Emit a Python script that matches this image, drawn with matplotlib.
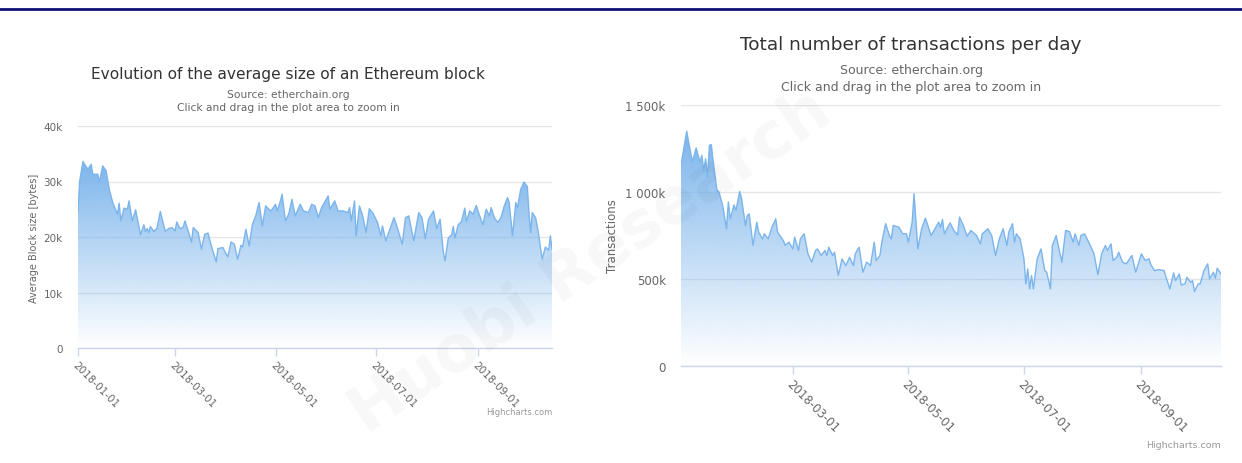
import numpy as np
import pandas as pd
import matplotlib
matplotlib.use("Agg")
import matplotlib.pyplot as plt
import matplotlib.dates as mdates
import matplotlib.colors as mcolors
from matplotlib.lines import Line2D

# ---------------- data ----------------
block_dates = [
    "2018-01-01", "2018-01-02", "2018-01-04", "2018-01-07", "2018-01-09", "2018-01-10", "2018-01-13",
    "2018-01-14", "2018-01-16", "2018-01-18", "2018-01-20", "2018-01-22", "2018-01-25", "2018-01-26",
    "2018-01-27", "2018-01-29", "2018-01-31",
    "2018-02-01", "2018-02-03", "2018-02-05", "2018-02-08", "2018-02-10", "2018-02-11", "2018-02-12",
    "2018-02-13", "2018-02-14", "2018-02-16", "2018-02-18", "2018-02-20", "2018-02-23", "2018-02-25",
    "2018-02-27",
    "2018-03-01", "2018-03-02", "2018-03-04", "2018-03-06", "2018-03-07", "2018-03-09", "2018-03-11",
    "2018-03-12", "2018-03-15", "2018-03-17", "2018-03-19", "2018-03-21", "2018-03-23", "2018-03-26",
    "2018-03-27", "2018-03-30",
    "2018-04-02", "2018-04-04", "2018-04-06", "2018-04-08", "2018-04-10", "2018-04-11", "2018-04-13",
    "2018-04-15", "2018-04-17", "2018-04-19", "2018-04-21", "2018-04-23", "2018-04-25", "2018-04-28",
    "2018-04-29",
    "2018-05-01", "2018-05-02", "2018-05-04", "2018-05-05", "2018-05-07", "2018-05-09", "2018-05-11",
    "2018-05-13", "2018-05-16", "2018-05-18", "2018-05-21", "2018-05-23", "2018-05-25", "2018-05-27",
    "2018-05-29",
    "2018-06-02", "2018-06-03", "2018-06-06", "2018-06-08", "2018-06-11", "2018-06-14", "2018-06-15",
    "2018-06-16", "2018-06-18", "2018-06-19", "2018-06-21", "2018-06-23", "2018-06-25", "2018-06-27",
    "2018-06-29",
    "2018-07-02", "2018-07-04", "2018-07-05", "2018-07-07", "2018-07-09", "2018-07-12", "2018-07-14",
    "2018-07-17", "2018-07-19", "2018-07-21", "2018-07-24", "2018-07-27", "2018-07-29", "2018-07-31",
    "2018-08-02", "2018-08-05", "2018-08-07", "2018-08-09", "2018-08-11", "2018-08-12", "2018-08-14",
    "2018-08-16", "2018-08-17", "2018-08-18", "2018-08-20", "2018-08-22", "2018-08-24", "2018-08-25",
    "2018-08-27", "2018-08-29", "2018-08-31",
    "2018-09-01", "2018-09-04", "2018-09-06", "2018-09-08", "2018-09-09", "2018-09-11", "2018-09-13",
    "2018-09-15", "2018-09-17", "2018-09-19", "2018-09-20", "2018-09-22", "2018-09-24", "2018-09-25",
    "2018-09-27", "2018-09-29",
    "2018-10-01", "2018-10-02", "2018-10-03", "2018-10-04", "2018-10-06", "2018-10-07", "2018-10-08",
    "2018-10-10", "2018-10-12", "2018-10-14", "2018-10-15", "2018-10-16",
]
block_size_k = [
    24.5, 30.0, 33.6, 32.2, 33.1, 31.3, 31.3, 29.9, 32.8, 32.0, 28.6, 26.3, 24.1, 26.1, 22.9, 25.2, 25.0,
    26.5, 22.9, 24.9, 20.4, 22.2, 21.0, 21.5, 20.8, 21.9, 21.0, 21.6, 24.6, 21.0, 21.5, 21.7,
    21.1, 22.7, 21.5, 21.8, 22.9, 21.0, 19.1, 21.7, 20.8, 17.8, 20.5, 20.7, 18.4, 15.5, 17.9, 18.1,
    16.4, 19.1, 18.7, 16.0, 18.5, 18.2, 21.4, 18.4, 22.3, 23.8, 26.2, 22.0, 25.6, 24.7, 25.0,
    25.9, 24.7, 26.5, 27.7, 22.9, 24.1, 26.8, 23.8, 25.9, 24.7, 24.4, 25.9, 25.6, 23.5, 25.3,
    27.4, 25.0, 26.5, 24.7, 24.7, 24.4, 25.3, 22.9, 26.5, 20.2, 25.6, 23.8, 20.8, 25.1, 24.4,
    22.6, 20.2, 22.0, 19.3, 21.0, 23.5, 21.7, 18.7, 23.5, 23.8, 19.3, 24.4, 23.5, 19.7,
    23.2, 24.7, 21.5, 23.2, 17.2, 15.7, 19.8, 20.4, 21.9, 19.8, 22.2, 22.8, 25.2, 22.8, 24.7, 24.1, 25.7,
    24.7, 22.2, 25.0, 23.8, 25.3, 23.5, 22.6, 23.5, 25.6, 27.1, 26.2, 20.2, 26.2, 25.3, 28.6, 29.9,
    29.1, 24.4, 20.8, 24.4, 23.5, 22.0, 20.2, 16.0, 18.2, 17.6, 20.2, 17.8,
]

tx_dates = [
    "2018-01-01", "2018-01-04", "2018-01-07", "2018-01-09", "2018-01-11", "2018-01-12", "2018-01-13",
    "2018-01-14", "2018-01-15", "2018-01-16", "2018-01-17", "2018-01-18", "2018-01-20", "2018-01-21",
    "2018-01-23", "2018-01-25", "2018-01-26", "2018-01-27", "2018-01-29", "2018-01-30",
    "2018-02-01", "2018-02-02", "2018-02-04", "2018-02-05", "2018-02-06", "2018-02-08", "2018-02-10",
    "2018-02-11", "2018-02-13", "2018-02-14", "2018-02-16", "2018-02-18", "2018-02-20", "2018-02-21",
    "2018-02-24", "2018-02-25", "2018-02-27",
    "2018-03-01", "2018-03-02", "2018-03-04", "2018-03-05", "2018-03-07", "2018-03-09", "2018-03-11",
    "2018-03-13", "2018-03-14", "2018-03-16", "2018-03-18", "2018-03-19", "2018-03-20", "2018-03-22",
    "2018-03-23", "2018-03-25", "2018-03-27", "2018-03-29", "2018-03-31",
    "2018-04-02", "2018-04-03", "2018-04-05", "2018-04-07", "2018-04-09", "2018-04-11", "2018-04-13",
    "2018-04-14", "2018-04-16", "2018-04-17", "2018-04-19", "2018-04-21", "2018-04-22", "2018-04-23",
    "2018-04-26", "2018-04-28", "2018-04-30",
    "2018-05-01", "2018-05-03", "2018-05-04", "2018-05-06", "2018-05-08", "2018-05-10", "2018-05-13",
    "2018-05-15", "2018-05-17", "2018-05-18", "2018-05-19", "2018-05-20", "2018-05-23", "2018-05-25",
    "2018-05-27", "2018-05-28", "2018-05-30",
    "2018-06-01", "2018-06-03", "2018-06-06", "2018-06-08", "2018-06-09", "2018-06-12", "2018-06-14",
    "2018-06-16", "2018-06-18", "2018-06-20", "2018-06-22", "2018-06-23", "2018-06-25", "2018-06-26",
    "2018-06-27", "2018-06-29",
    "2018-07-01", "2018-07-02", "2018-07-03", "2018-07-04", "2018-07-05", "2018-07-06", "2018-07-08",
    "2018-07-10", "2018-07-12", "2018-07-13", "2018-07-15", "2018-07-16", "2018-07-18", "2018-07-21",
    "2018-07-23", "2018-07-25", "2018-07-27", "2018-07-28", "2018-07-30", "2018-07-31",
    "2018-08-02", "2018-08-05", "2018-08-07", "2018-08-09", "2018-08-11", "2018-08-13", "2018-08-14",
    "2018-08-16", "2018-08-17", "2018-08-19", "2018-08-20", "2018-08-22", "2018-08-24", "2018-08-27",
    "2018-08-29",
    "2018-09-01", "2018-09-03", "2018-09-05", "2018-09-06", "2018-09-08", "2018-09-10", "2018-09-13",
    "2018-09-14", "2018-09-16", "2018-09-18", "2018-09-19", "2018-09-21", "2018-09-22", "2018-09-24",
    "2018-09-25", "2018-09-27", "2018-09-28", "2018-09-29",
    "2018-10-01", "2018-10-02", "2018-10-04", "2018-10-06", "2018-10-07", "2018-10-09", "2018-10-10",
    "2018-10-11", "2018-10-13",
]
tx_count_k = [
    1153, 1349, 1172, 1253, 1172, 1210, 1124, 1191, 1086, 1268, 1272, 1172, 1009, 1000, 922, 788, 942,
    845, 925, 893,
    1003, 960, 807, 864, 874, 692, 826, 768, 730, 759, 730, 797, 845, 768, 720, 692, 711,
    672, 740, 663, 730, 759, 643, 596, 663, 672, 634, 663, 634, 682, 634, 653, 519, 615, 576, 624,
    576, 644, 682, 538, 596, 576, 711, 605, 634, 711, 817, 749, 730, 807, 797, 759, 759,
    711, 826, 990, 672, 788, 849, 749, 788, 826, 797, 842, 759, 822, 778, 753, 855, 807,
    745, 778, 749, 701, 759, 788, 749, 634, 730, 788, 692, 769, 817, 711, 759, 730,
    615, 471, 557, 442, 519, 442, 615, 672, 547, 538, 442, 692, 749, 596, 778, 772, 711, 759, 692, 749,
    759, 692, 644, 523, 644, 692, 663, 701, 605, 624, 653, 596, 586, 634, 538,
    644, 605, 615, 580, 547, 553, 547, 509, 442, 534, 490, 528, 465, 471, 509, 480, 490, 427,
    471, 471, 547, 586, 499, 538, 503, 561, 528,
]

block_xticks = ["2018-01-01", "2018-03-01", "2018-05-01", "2018-07-01", "2018-09-01"]
tx_xticks = ["2018-03-01", "2018-05-01", "2018-07-01", "2018-09-01"]
block_yticks = [0, 10, 20, 30, 40]
block_ytick_labels = ["0", "10k", "20k", "30k", "40k"]
tx_yticks = [0, 500, 1000, 1500]
tx_ytick_labels = ["0", "500k", "1 000k", "1 500k"]

# ---------------- figure ----------------
W, H = 1242, 464
fig = plt.figure(figsize=(W / 100, H / 100), dpi=100)
fig.patch.set_facecolor("white")
plt.rcParams["font.family"] = ["DejaVu Sans"]

SERIES = "#7cb5ec"
GRID = "#e6e6e6"
AXIS = "#ccd6eb"
LABEL = "#666666"
TITLE = "#333333"


def fx(x):
    return x / W


def fy(y):
    return 1 - y / H


def gradient_area(ax, dates, values):
    x = mdates.date2num(pd.to_datetime(dates))
    y = np.asarray(values, dtype=float)
    poly = ax.fill_between(x, y, 0, facecolor="none", edgecolor="none")
    rgb = mcolors.to_rgb(SERIES)
    n = 256
    img = np.zeros((n, 1, 4))
    img[:, 0, :3] = rgb
    img[:, 0, 3] = np.linspace(0.0, 1.0, n)
    im = ax.imshow(img, aspect="auto", origin="lower",
                   extent=[x.min(), x.max(), 0, y.max()], zorder=1,
                   interpolation="bilinear")
    im.set_clip_path(poly.get_paths()[0], transform=ax.transData)
    ax.plot(x, y, color=SERIES, lw=1.0, zorder=2)
    return x


def style_axis(ax, xticks, yticks, ylabels, fs_tick, fs_x):
    for s in ["top", "right", "left"]:
        ax.spines[s].set_visible(False)
    ax.spines["bottom"].set_color(AXIS)
    ax.spines["bottom"].set_linewidth(1)
    ax.spines["bottom"].set_zorder(3)
    ax.set_yticks(yticks)
    ax.set_yticklabels(ylabels, fontsize=fs_tick, color=LABEL)
    ax.tick_params(axis="y", length=0, pad=11)
    ax.yaxis.grid(True, color=GRID, lw=1)
    ax.set_axisbelow(True)
    xt = mdates.date2num(pd.to_datetime(xticks))
    ax.set_xticks(xt)
    ax.set_xticklabels(xticks, rotation=-45, ha="left", va="top",
                       rotation_mode="anchor", fontsize=fs_x, color=LABEL)
    ax.tick_params(axis="x", length=6, width=1, color=AXIS, pad=2)


# left chart
ax1 = fig.add_axes([fx(78), fy(349), fx(474), 222 / H])
x1 = gradient_area(ax1, block_dates, block_size_k)
style_axis(ax1, block_xticks, block_yticks, block_ytick_labels, 7.5, 7.5)
ax1.set_xlim(x1.min(), x1.max())
ax1.set_ylim(0, 40)
ax1.set_ylabel("Average Block size [bytes]", fontsize=7, color=LABEL, labelpad=3)

# right chart
ax2 = fig.add_axes([fx(681), fy(366.7), fx(540), 260.7 / H])
x2 = gradient_area(ax2, tx_dates, tx_count_k)
style_axis(ax2, tx_xticks, tx_yticks, tx_ytick_labels, 8.5, 8.5)
ax2.set_xlim(x2.min(), x2.max())
ax2.set_ylim(0, 1500)
ax2.set_ylabel("Transactions", fontsize=8.5, color=LABEL, labelpad=5)

# titles
fig.text(fx(288), fy(74), "Evolution of the average size of an Ethereum block",
         ha="center", va="center", fontsize=11.1, color=TITLE)
fig.text(fx(288), fy(95), "Source: etherchain.org", ha="center", va="center",
         fontsize=7.7, color=LABEL)
fig.text(fx(288), fy(108), "Click and drag in the plot area to zoom in",
         ha="center", va="center", fontsize=7.7, color=LABEL)

fig.text(fx(911), fy(45), "Total number of transactions per day",
         ha="center", va="center", fontsize=13.3, color=TITLE)
fig.text(fx(911), fy(71), "Source: etherchain.org", ha="center", va="center",
         fontsize=9, color=LABEL)
fig.text(fx(911), fy(87), "Click and drag in the plot area to zoom in",
         ha="center", va="center", fontsize=9, color=LABEL)

# credits
fig.text(fx(552), fy(413), "Highcharts.com", ha="right", va="center", fontsize=6, color="#999999")
fig.text(fx(1221), fy(446), "Highcharts.com", ha="right", va="center", fontsize=6.8, color="#999999")

# top rule
fig.add_artist(Line2D([0, 1], [fy(10), fy(10)], transform=fig.transFigure,
                      color="#10107a", lw=2))

# faint watermark
fig.text(fx(590), fy(262), "Huobi Research", rotation=34, ha="center", va="center",
         fontsize=46, weight="bold", color="black", alpha=0.03, zorder=20)

fig.savefig("out.png", dpi=100)
